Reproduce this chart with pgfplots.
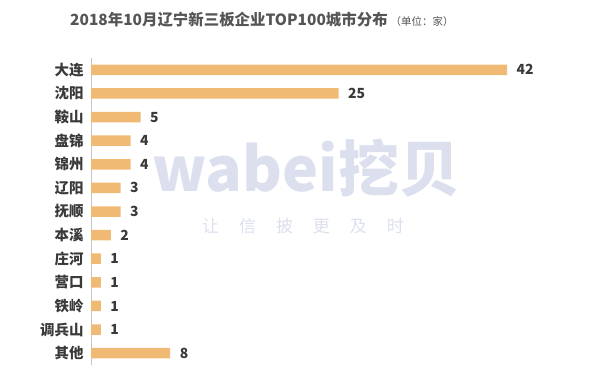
\documentclass[border=0pt]{standalone}
\usepackage{fontspec}
\setmainfont{Noto Sans CJK SC}
\usepackage{pgfplots}
\pgfplotsset{compat=1.18}
\definecolor{barc}{HTML}{F1BA74}
\definecolor{txt}{HTML}{3A3A3A}
\definecolor{ttl}{HTML}{555555}
\definecolor{wm}{HTML}{DCDFEE}
\begin{document}
\begin{tikzpicture}
\path[use as bounding box] (0,0) rectangle (605bp,378bp);
% watermark
\node[text=wm, font=\fontsize{61}{64}\selectfont\bfseries, inner sep=0] at (306bp,210bp) {wabei挖贝};
\node[text=wm, font=\fontsize{17}{20}\selectfont, inner sep=0] at (303bp,152bp) {让\hspace{20bp}信\hspace{20bp}披\hspace{20bp}更\hspace{20bp}及\hspace{20bp}时};
% title
\node[text=ttl, inner sep=0, anchor=base west] at (70bp,352bp) {{\fontsize{15.5}{18}\selectfont\bfseries 2018年10月辽宁新三板企业TOP100城市分布}\hspace{3bp}{\fontsize{10.5}{12}\selectfont（单位：家）}};
\begin{axis}[
  at={(91bp,13bp)}, anchor=south west,
  scale only axis, width=460bp, height=307bp,
  xbar, bar width=10.5bp,
  xmin=0, xmax=46.44,
  ymin=-0.5, ymax=12.5, y dir=reverse,
  axis x line=none, axis y line*=left,
  y axis line style={draw=gray!45, line width=0.8pt},
  ytick={0,...,12},
  yticklabels={大连,沈阳,鞍山,盘锦,锦州,辽阳,抚顺,本溪,庄河,营口,铁岭,调兵山,其他},
  major tick length=0pt,
  yticklabel style={text=txt, font=\fontsize{14.5}{16}\selectfont\bfseries, xshift=-4bp},
  /pgf/number format/assume math mode=true,
  nodes near coords,
  every node near coord/.append style={text=txt, font=\fontsize{14}{16}\selectfont\bfseries, xshift=6bp},
]
\addplot[fill=barc, draw=none] coordinates {
(42,0) (25,1) (5,2) (4,3) (4,4) (3,5) (3,6) (2,7) (1,8) (1,9) (1,10) (1,11) (8,12)
};
\end{axis}
\end{tikzpicture}
\end{document}
